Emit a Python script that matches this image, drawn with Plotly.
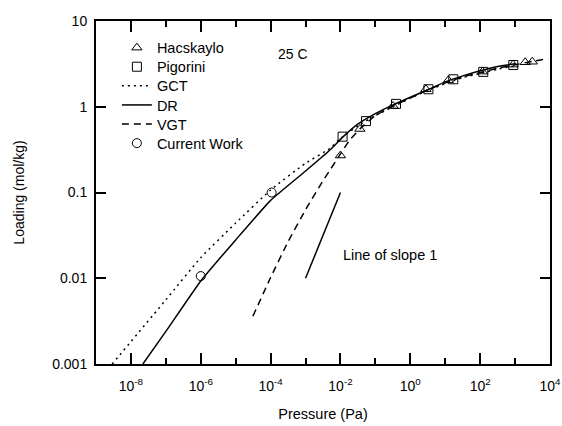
import plotly.graph_objects as go

# ---- data ----
hac_p = [0.01, 0.036, 0.32, 2.8, 12.3, 117, 870, 1950, 3100]
hac_q = [0.27, 0.55, 1.02, 1.6, 2.04, 2.57, 3.1, 3.3, 3.35]

pig_p = [0.0115, 0.054, 0.39, 3.3, 17, 123, 890]
pig_q = [0.448, 0.68, 1.08, 1.6, 2.09, 2.55, 3.07]

cw_p = [1e-6, 1.07e-4]
cw_q = [0.0106, 0.1]

gct_p = [2.9e-9, 1e-7, 1e-6, 1e-5, 1e-4, 1e-3, 5e-3, 1e-2, 3.2e-2, 0.1, 0.32, 1, 3.2, 10, 32, 100, 320, 1000]
gct_q = [0.001, 0.0056, 0.0174, 0.044, 0.107, 0.219, 0.327, 0.427, 0.6, 0.79, 1.0, 1.26, 1.55, 1.86, 2.19, 2.45, 2.75, 3.0]

dr_p = [2.2e-8, 1e-7, 1e-6, 1e-5, 1e-4, 1e-3, 5e-3, 1.2e-2, 3.2e-2, 0.1, 0.32, 1, 3.2, 10, 32, 100, 320, 1000]
dr_q = [0.001, 0.0024, 0.0093, 0.028, 0.081, 0.178, 0.313, 0.448, 0.63, 0.83, 1.05, 1.29, 1.58, 1.95, 2.29, 2.63, 2.95, 3.18]

vgt_p = [3.1e-5, 1e-4, 3.2e-4, 1e-3, 3.2e-3, 5e-3, 1e-2, 1.86e-2, 3.6e-2, 0.1, 0.32, 1, 3.2, 10, 32, 100, 320, 1000, 3200, 8900]
vgt_q = [0.0036, 0.0102, 0.0269, 0.063, 0.138, 0.182, 0.282, 0.41, 0.55, 0.79, 1.02, 1.26, 1.58, 1.9, 2.24, 2.51, 2.82, 3.09, 3.39, 3.63]

slope_p = [1e-3, 1e-2]
slope_q = [0.01, 0.1]

x_major = [1e-8, 1e-6, 1e-4, 1e-2, 1, 1e2, 1e4]
x_major_text = ["10<sup>-8</sup>", "10<sup>-6</sup>", "10<sup>-4</sup>", "10<sup>-2</sup>",
                "10<sup>0</sup>", "10<sup>2</sup>", "10<sup>4</sup>"]
x_minor = [1e-9, 1e-7, 1e-5, 1e-3, 1e-1, 1e1, 1e3]
y_ticks = [0.001, 0.01, 0.1, 1, 10]
y_text = ["0.001", "0.01", "0.1", "1", "10"]

FONT = "Liberation Sans, Arial, sans-serif"
BLACK = "#000000"

fig = go.Figure()
fig.add_trace(go.Scatter(x=hac_p, y=hac_q, mode="markers", name="Hacskaylo", legend="legend",
                         marker=dict(symbol="triangle-up-open", size=9, color=BLACK,
                                     line=dict(width=1, color=BLACK))))
fig.add_trace(go.Scatter(x=pig_p, y=pig_q, mode="markers", name="Pigorini", legend="legend2",
                         marker=dict(symbol="square-open", size=9, color=BLACK,
                                     line=dict(width=1, color=BLACK))))
fig.add_trace(go.Scatter(x=gct_p, y=gct_q, mode="lines", name="GCT", line_shape="spline",
                         legend="legend3",
                         line=dict(color=BLACK, width=1.5, dash="2px,4px", smoothing=0.5)))
fig.add_trace(go.Scatter(x=dr_p, y=dr_q, mode="lines", name="DR", line_shape="spline",
                         legend="legend4",
                         line=dict(color=BLACK, width=1.5, smoothing=0.4)))
fig.add_trace(go.Scatter(x=vgt_p, y=vgt_q, mode="lines", name="VGT", line_shape="spline",
                         legend="legend5",
                         line=dict(color=BLACK, width=1.5, dash="7px,5px", smoothing=0.5)))
fig.add_trace(go.Scatter(x=cw_p, y=cw_q, mode="markers", name="Current Work", legend="legend6",
                         marker=dict(symbol="circle-open", size=9, color=BLACK,
                                     line=dict(width=1, color=BLACK))))
fig.add_trace(go.Scatter(x=slope_p, y=slope_q, mode="lines", showlegend=False,
                         line=dict(color=BLACK, width=1.5)))

fig.add_annotation(x=0.396, y=0.904, xref="paper", yref="paper", text="25 C",
                   showarrow=False, font=dict(size=14, color=BLACK, family=FONT),
                   xanchor="left", yanchor="middle")
fig.add_annotation(x=-1.99, y=-1.73, xref="x", yref="y", text="Line of slope 1",
                   showarrow=False, font=dict(size=14.5, color=BLACK, family=FONT),
                   xanchor="left", yanchor="middle")

# one legend box per row so the rows keep the reference spacing
row_centres_px = [47.7, 66.8, 85.9, 105.0, 124.1, 143.2]
PLOT_TOP, PLOT_H = 21, 343
legends = {}
for i, yc in enumerate(row_centres_px):
    key = "legend" if i == 0 else f"legend{i + 1}"
    legends[key] = dict(x=0.046, y=1 - (yc - PLOT_TOP) / PLOT_H,
                        xanchor="left", yanchor="middle",
                        bgcolor="rgba(0,0,0,0)", borderwidth=0,
                        font=dict(size=14.5, family=FONT, color=BLACK),
                        itemwidth=30, tracegroupgap=0)

fig.update_layout(
    width=562, height=426,
    margin=dict(l=96, r=12, t=21, b=62),
    paper_bgcolor="white", plot_bgcolor="white",
    font=dict(family=FONT, size=14, color=BLACK),
    showlegend=True,
    **legends,
    xaxis=dict(type="log", range=[-9, 4], showgrid=False, zeroline=False,
               automargin=False,
               showline=True, linecolor=BLACK, linewidth=2, mirror="allticks",
               ticks="inside", ticklen=11, tickwidth=2, tickcolor=BLACK,
               tickmode="array", tickvals=x_major, ticktext=x_major_text,
               ticklabelstandoff=8,
               minor=dict(tickmode="array", tickvals=x_minor, ticks="inside",
                          ticklen=6, tickwidth=1.5, tickcolor=BLACK, showgrid=False),
               title=dict(text="Pressure (Pa)", font=dict(size=14.5), standoff=16),
               tickfont=dict(size=14)),
    yaxis=dict(type="log", range=[-3, 1], showgrid=False, zeroline=False,
               automargin=False,
               showline=True, linecolor=BLACK, linewidth=2, mirror="allticks",
               ticks="inside", ticklen=10, tickwidth=2, tickcolor=BLACK,
               tickmode="array", tickvals=y_ticks, ticktext=y_text,
               ticklabelstandoff=4,
               title=dict(text="Loading (mol/kg)", font=dict(size=14), standoff=24),
               tickfont=dict(size=14)),
)

fig.write_html("out.html", config={"displayModeBar": False},
               post_script="document.body.style.margin='0';")
